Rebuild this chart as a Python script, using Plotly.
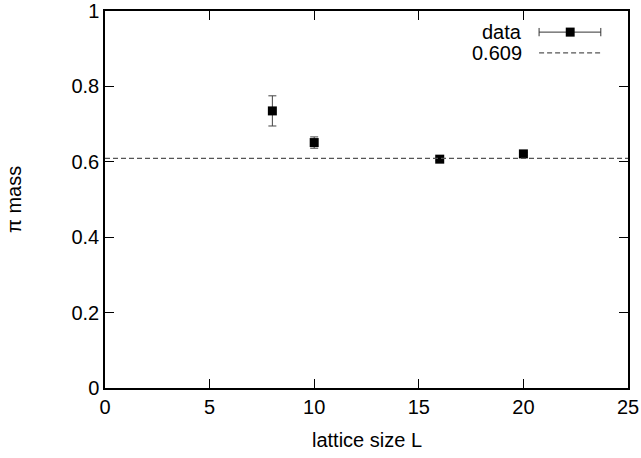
import plotly.graph_objects as go

# data
lattice_L = [8, 10, 16, 20]
pi_mass = [0.735, 0.651, 0.607, 0.621]
pi_mass_err = [0.040, 0.015, 0.004, 0.004]
fit_value = 0.609
fit_label = "0.609"
x_ticks = [0, 5, 10, 15, 20, 25]
y_ticks = [0, 0.2, 0.4, 0.6, 0.8, 1]
y_tick_labels = ["0", "0.2", "0.4", "0.6", "0.8", "1"]

FONT = "Liberation Sans, Arial, Helvetica, sans-serif"
FS = 20
DASH = "5px,3px"

fig = go.Figure()
fig.add_trace(go.Scatter(
    x=lattice_L, y=pi_mass, mode="markers", name="data",
    marker=dict(symbol="square", size=9, color="black"),
    error_y=dict(type="data", array=pi_mass_err, color="#444444", thickness=1, width=4),
    showlegend=False,
))

# fit line
fig.add_shape(type="line", xref="paper", yref="y", x0=0, x1=1, y0=fit_value, y1=fit_value,
              line=dict(color="#555555", width=1.2, dash=DASH))

# manual gnuplot-style legend (text left, sample right)
ly1, ly2 = 0.944, 0.889
fig.add_annotation(xref="paper", yref="paper", x=0.801, y=ly1, text="data",
                   showarrow=False, xanchor="right", yanchor="middle",
                   font=dict(family=FONT, size=FS, color="black"))
fig.add_annotation(xref="paper", yref="paper", x=0.801, y=ly2, text=fit_label,
                   showarrow=False, xanchor="right", yanchor="middle",
                   font=dict(family=FONT, size=FS, color="black"))
fig.add_shape(type="line", xref="paper", yref="paper", x0=0.830, x1=0.948, y0=ly1, y1=ly1,
              line=dict(color="#333333", width=1))
fig.add_shape(type="line", xref="paper", yref="paper", x0=0.830, x1=0.830, y0=ly1 - 0.011, y1=ly1 + 0.011,
              line=dict(color="#333333", width=1))
fig.add_shape(type="line", xref="paper", yref="paper", x0=0.948, x1=0.948, y0=ly1 - 0.011, y1=ly1 + 0.011,
              line=dict(color="#333333", width=1))
fig.add_shape(type="rect", xref="paper", yref="paper", x0=0.881, x1=0.898, y0=ly1 - 0.012, y1=ly1 + 0.012,
              line=dict(width=0), fillcolor="black")
fig.add_shape(type="line", xref="paper", yref="paper", x0=0.830, x1=0.948, y0=ly2, y1=ly2,
              line=dict(color="#555555", width=1.2, dash=DASH))

# axis titles
fig.add_annotation(xref="paper", yref="paper", x=0.5, y=-0.138, text="lattice size L",
                   showarrow=False, xanchor="center", yanchor="middle",
                   font=dict(family=FONT, size=FS, color="black"))
fig.add_annotation(xref="paper", yref="paper", x=-0.175, y=0.5, text="π mass", textangle=-90,
                   showarrow=False, xanchor="center", yanchor="middle",
                   font=dict(family=FONT, size=FS, color="black"))

axis_common = dict(
    showgrid=False, zeroline=False, showline=True, linecolor="black", linewidth=1.5,
    mirror="ticks", ticks="inside", ticklen=9, tickcolor="black", tickwidth=1,
    tickfont=dict(family=FONT, size=FS, color="black"), automargin=False,
    ticklabeloverflow="allow",
)
fig.update_xaxes(range=[0, 25], tickvals=x_ticks, ticktext=[str(v) for v in x_ticks], **axis_common)
fig.update_yaxes(range=[0, 1], tickvals=y_ticks, ticktext=y_tick_labels, **axis_common)

fig.update_layout(
    width=641, height=458,
    margin=dict(l=105, r=13, t=11, b=70),
    plot_bgcolor="white", paper_bgcolor="white",
    showlegend=False,
)
# remove the default 8px page margin so the figure sits at the window's top-left corner
fig.write_html("out.html", config={"displayModeBar": False},
               post_script="document.body.style.margin='0';")
